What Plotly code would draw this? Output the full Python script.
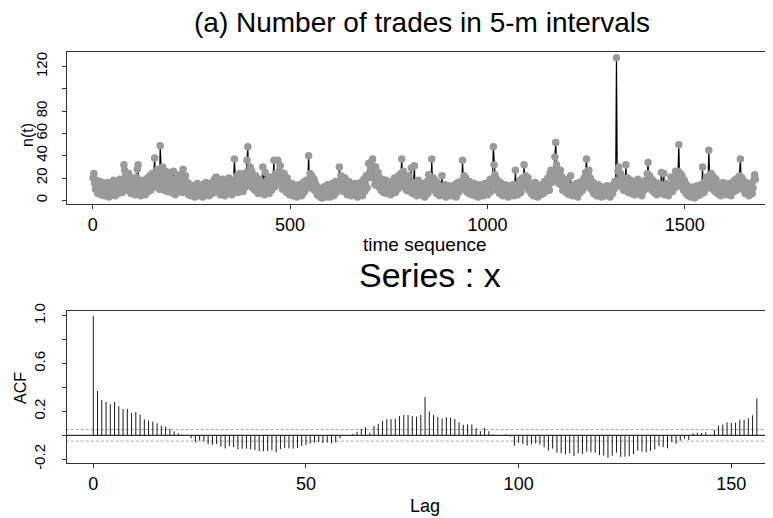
import plotly.graph_objects as go

# ---------------- data: number of trades (every 2nd 5-min interval), one list per trading day
trades_by_day = [
    [20, 24, 15, 10, 18, 12, 6, 14, 9, 17, 5, 11, 8, 15, 4, 10, 13, 6, 16, 9, 3, 12, 7, 14, 5, 11, 18, 8, 4, 13, 10, 16, 6, 12, 19, 9, 14, 7, 17],
    [32, 27, 14, 22, 9, 18, 24, 11, 16, 6, 20, 13, 8, 17, 5, 12, 21, 28, 32, 10, 15, 4, 12, 18, 7, 14, 10, 5, 16, 11, 20, 8, 13, 22, 9, 17, 24, 12, 21],
    [38, 18, 25, 12, 28, 20, 10, 49, 24, 15, 30, 22, 9, 19, 26, 13, 8, 21, 16, 11, 25, 7, 14, 19, 26, 10, 5, 15, 20, 12, 8, 18, 23, 11, 16, 7, 28, 20, 13],
    [22, 12, 8, 16, 5, 11, 14, 4, 9, 13, 6, 10, 3, 12, 7, 15, 4, 9, 11, 5, 8, 14, 3, 10, 6, 12, 16, 5, 9, 13, 4, 11, 15, 8, 6, 14, 18, 10, 20],
    [21, 14, 8, 17, 11, 5, 15, 9, 19, 7, 12, 4, 16, 10, 6, 13, 20, 8, 11, 15, 5, 12, 18, 37, 14, 9, 22, 12, 7, 17, 24, 10, 15, 20, 8, 22, 18, 12, 25],
    [36, 48, 22, 14, 30, 18, 26, 11, 20, 15, 9, 22, 12, 17, 6, 13, 19, 8, 11, 16, 30, 10, 5, 25, 14, 8, 18, 11, 6, 15, 21, 9, 14, 20, 36, 12, 24, 17, 22],
    [36, 20, 26, 31, 14, 22, 10, 18, 24, 12, 16, 7, 20, 10, 14, 5, 11, 8, 15, 4, 10, 13, 6, 9, 3, 11, 14, 5, 8, 12, 4, 10, 16, 7, 13, 9, 18, 11, 15],
    [40, 18, 24, 14, 22, 20, 10, 19, 16, 8, 13, 5, 11, 4, 8, 3, 9, 2, 6, 12, 4, 7, 3, 10, 14, 5, 9, 3, 12, 6, 15, 8, 4, 11, 17, 7, 13, 16, 10],
    [30, 16, 22, 12, 18, 8, 15, 20, 10, 13, 5, 11, 17, 7, 14, 4, 10, 12, 5, 9, 15, 6, 11, 3, 8, 13, 6, 16, 9, 4, 12, 19, 8, 14, 22, 11, 20, 33, 24],
    [26, 30, 35, 37, 20, 28, 14, 30, 22, 18, 25, 12, 20, 16, 9, 19, 13, 7, 15, 10, 18, 6, 12, 16, 8, 14, 5, 11, 17, 9, 13, 20, 7, 15, 18, 10, 22, 14, 19],
    [24, 37, 18, 26, 12, 22, 17, 9, 20, 14, 22, 8, 15, 29, 11, 6, 16, 31, 9, 13, 4, 12, 18, 6, 10, 14, 5, 11, 8, 15, 3, 12, 9, 17, 6, 23, 13, 19, 10],
    [37, 14, 20, 9, 18, 12, 6, 16, 10, 13, 4, 11, 8, 22, 5, 12, 9, 14, 3, 10, 7, 13, 5, 9, 12, 4, 8, 11, 6, 14, 9, 3, 12, 16, 7, 13, 10, 17, 11],
    [36, 18, 22, 12, 20, 8, 16, 13, 6, 17, 10, 14, 5, 12, 9, 15, 4, 11, 7, 13, 3, 10, 14, 6, 9, 12, 4, 11, 15, 7, 10, 13, 5, 16, 11, 19, 8, 14, 17],
    [48, 32, 23, 14, 19, 9, 17, 12, 6, 16, 10, 13, 4, 11, 8, 14, 5, 12, 9, 3, 10, 13, 6, 11, 7, 14, 4, 10, 27, 8, 12, 5, 15, 11, 18, 7, 13, 20, 16],
    [32, 18, 22, 12, 16, 20, 9, 15, 11, 6, 14, 9, 4, 12, 16, 7, 10, 3, 13, 8, 11, 5, 14, 9, 6, 12, 17, 8, 15, 11, 20, 14, 9, 24, 27, 16, 22, 18, 26],
    [39, 52, 32, 20, 26, 15, 24, 27, 14, 21, 9, 18, 12, 16, 7, 14, 10, 19, 5, 12, 22, 8, 11, 4, 13, 9, 6, 15, 10, 3, 12, 16, 7, 11, 17, 9, 14, 20, 12],
    [25, 37, 18, 24, 27, 14, 20, 10, 17, 13, 6, 15, 9, 12, 4, 10, 14, 5, 8, 11, 3, 9, 12, 6, 10, 4, 7, 13, 5, 9, 11, 3, 8, 12, 6, 14, 10, 17, 13],
    [128, 18, 26, 30, 16, 24, 12, 21, 19, 9, 17, 14, 32, 11, 20, 7, 15, 12, 18, 6, 13, 10, 16, 5, 11, 14, 8, 19, 10, 6, 15, 12, 4, 13, 17, 9, 14, 18, 11],
    [24, 34, 16, 22, 12, 19, 9, 18, 14, 7, 16, 11, 5, 13, 9, 15, 6, 12, 25, 8, 13, 24, 5, 11, 15, 7, 10, 4, 13, 9, 21, 12, 8, 17, 14, 19, 26, 12, 22],
    [26, 50, 18, 24, 13, 22, 16, 9, 18, 12, 6, 14, 9, 4, 11, 7, 3, 10, 5, 12, 8, 2, 9, 6, 13, 4, 8, 11, 5, 14, 9, 30, 12, 7, 17, 14, 21, 11, 18],
    [45, 20, 14, 24, 18, 10, 21, 16, 8, 19, 12, 6, 15, 10, 13, 4, 11, 8, 16, 6, 10, 13, 5, 12, 9, 15, 7, 11, 4, 14, 10, 17, 8, 12, 19, 9, 15, 20, 13],
    [22, 37, 14, 20, 10, 17, 13, 6, 16, 11, 8, 14, 4, 12, 9, 15, 6, 11, 18, 23, 19],
]
trades = [v for day in trades_by_day for v in day]
time_index = [1 + 2 * i for i in range(len(trades))]

# ---------------- sample ACF, lags 0..156
acf_values = [
    1.000, 0.371, 0.296, 0.279, 0.260, 0.279, 0.243, 0.220, 0.222, 0.187,
    0.195, 0.173, 0.134, 0.123, 0.115, 0.100, 0.081, 0.073, 0.056, 0.033,
    0.017, 0.005, -0.005, -0.025, -0.059, -0.045, -0.050, -0.073, -0.080, -0.073,
    -0.095, -0.110, -0.090, -0.100, -0.117, -0.112, -0.112, -0.117, -0.123, -0.131,
    -0.134, -0.131, -0.126, -0.143, -0.115, -0.106, -0.109, -0.112, -0.106, -0.089,
    -0.081, -0.070, -0.061, -0.056, -0.064, -0.061, -0.067, -0.059, -0.025, -0.005,
    0.000, 0.010, 0.030, 0.053, 0.067, 0.022, 0.078, 0.095, 0.120, 0.134,
    0.134, 0.137, 0.162, 0.170, 0.170, 0.159, 0.156, 0.170, 0.321, 0.200,
    0.170, 0.153, 0.140, 0.150, 0.148, 0.137, 0.109, 0.087, 0.092, 0.090,
    0.062, 0.034, 0.062, 0.034, 0.008, 0.000, -0.003, 0.008, -0.010, -0.087,
    -0.061, -0.073, -0.087, -0.076, -0.067, -0.078, -0.100, -0.126, -0.112, -0.145,
    -0.151, -0.159, -0.151, -0.173, -0.151, -0.156, -0.137, -0.143, -0.145, -0.165,
    -0.170, -0.187, -0.170, -0.145, -0.180, -0.180, -0.176, -0.156, -0.128, -0.137,
    -0.143, -0.128, -0.117, -0.089, -0.098, -0.109, -0.056, -0.070, -0.045, -0.028,
    -0.039, 0.017, 0.022, 0.020, 0.025, 0.003, 0.045, 0.081, 0.090, 0.109,
    0.103, 0.106, 0.131, 0.131, 0.142, 0.167, 0.310,
]
lags = list(range(len(acf_values)))
conf_limit = 0.0488  # approx 2/sqrt(n)

top_x_ticks = [0, 500, 1000, 1500]
top_y_ticks = [0, 20, 40, 60, 80, 100, 120]
top_y_text = ["0", "20", "40", "60", "80", "", "120"]
acf_x_ticks = [0, 50, 100, 150]
acf_y_ticks = [-0.2, 0.0, 0.2, 0.4, 0.6, 0.8, 1.0]
acf_y_text = ["-0.2", "", "0.2", "", "0.6", "", "1.0"]

# ---------------- layout geometry (page pixels; the page body adds an 8px offset)
OFF = 8
W, H = 773 - OFF, 518 - OFF
PLOT_LEFT = 67
ML = PLOT_LEFT - OFF
FONT = "Liberation Sans, Arial, Helvetica, sans-serif"


def px_x(p):
    return (p - OFF - ML) / (W - ML)


def px_y(p):
    return 1 - (p - OFF) / H


acf_x, acf_y = [], []
for k, v in zip(lags, acf_values):
    acf_x += [k, k, None]
    acf_y += [0, v, None]

fig = go.Figure()
fig.add_trace(go.Scatter(x=time_index, y=trades, mode="lines+markers",
                         line=dict(color="black", width=1.2),
                         marker=dict(color="#9a9a9a", size=7.5, line=dict(width=0)),
                         xaxis="x", yaxis="y", showlegend=False))

fig.add_trace(go.Scatter(x=[-10, 170], y=[0, 0], mode="lines",
                         line=dict(color="black", width=1),
                         xaxis="x2", yaxis="y2", hoverinfo="skip", showlegend=False))
for c in (conf_limit, -conf_limit):
    fig.add_trace(go.Scatter(x=[-10, 170], y=[c, c], mode="lines",
                             line=dict(color="#a8a8a8", width=1, dash="3px,2px"),
                             xaxis="x2", yaxis="y2", hoverinfo="skip", showlegend=False))
fig.add_trace(go.Scatter(x=acf_x, y=acf_y, mode="lines",
                         line=dict(color="#1a1a1a", width=1),
                         xaxis="x2", yaxis="y2", hoverinfo="skip", showlegend=False))

axis_common = dict(showgrid=False, zeroline=False, showline=True, linecolor="#333333",
                   linewidth=1.3, ticks="outside", ticklen=4, tickcolor="#333333",
                   tickfont=dict(family=FONT, size=18, color="black"), automargin=False)
ytick_font = dict(family=FONT, size=15, color="black")

fig.update_layout(
    width=W, height=H,
    margin=dict(l=ML, r=0, t=0, b=0),
    paper_bgcolor="white", plot_bgcolor="white",
    font=dict(family=FONT, color="black"),
    xaxis=dict(axis_common, domain=[0, 1], range=[-65.1, 1723.6], mirror=True,
               tickvals=top_x_ticks, anchor="y", ticklabelstandoff=0),
    yaxis=dict(axis_common, domain=[px_y(204), px_y(52)], range=[-3.32, 133.2],
               tickvals=top_y_ticks, ticktext=top_y_text, tickangle=-90,
               tickfont=ytick_font, anchor="x", ticklabelstandoff=9),
    xaxis2=dict(axis_common, domain=[0, 1], range=[-6.18, 159.8], mirror=True,
                tickvals=acf_x_ticks, anchor="y2", ticklabelstandoff=0),
    yaxis2=dict(axis_common, domain=[px_y(463.3), px_y(310.7)], range=[-0.2345, 1.0436],
                tickvals=acf_y_ticks, ticktext=acf_y_text, tickangle=-90,
                tickfont=ytick_font, anchor="x2", ticklabelstandoff=11),
    annotations=[
        dict(text="(a) Number of trades in 5-m intervals", x=px_x(422), y=px_y(22),
             xref="paper", yref="paper", showarrow=False, xanchor="center", yanchor="middle",
             font=dict(family=FONT, size=28)),
        dict(text="time sequence", x=px_x(425), y=px_y(244), xref="paper", yref="paper",
             showarrow=False, xanchor="center", yanchor="middle", font=dict(family=FONT, size=19)),
        dict(text="n(t)", x=px_x(27), y=px_y(135), xref="paper", yref="paper", textangle=-90,
             showarrow=False, xanchor="center", yanchor="middle", font=dict(family=FONT, size=16)),
        dict(text="Series : x", x=px_x(430), y=px_y(275), xref="paper", yref="paper",
             showarrow=False, xanchor="center", yanchor="middle", font=dict(family=FONT, size=34)),
        dict(text="Lag", x=px_x(425), y=px_y(506), xref="paper", yref="paper",
             showarrow=False, xanchor="center", yanchor="middle", font=dict(family=FONT, size=18)),
        dict(text="ACF", x=px_x(20), y=px_y(388), xref="paper", yref="paper", textangle=-90,
             showarrow=False, xanchor="center", yanchor="middle", font=dict(family=FONT, size=16)),
    ],
)

fig.write_html("out.html")
